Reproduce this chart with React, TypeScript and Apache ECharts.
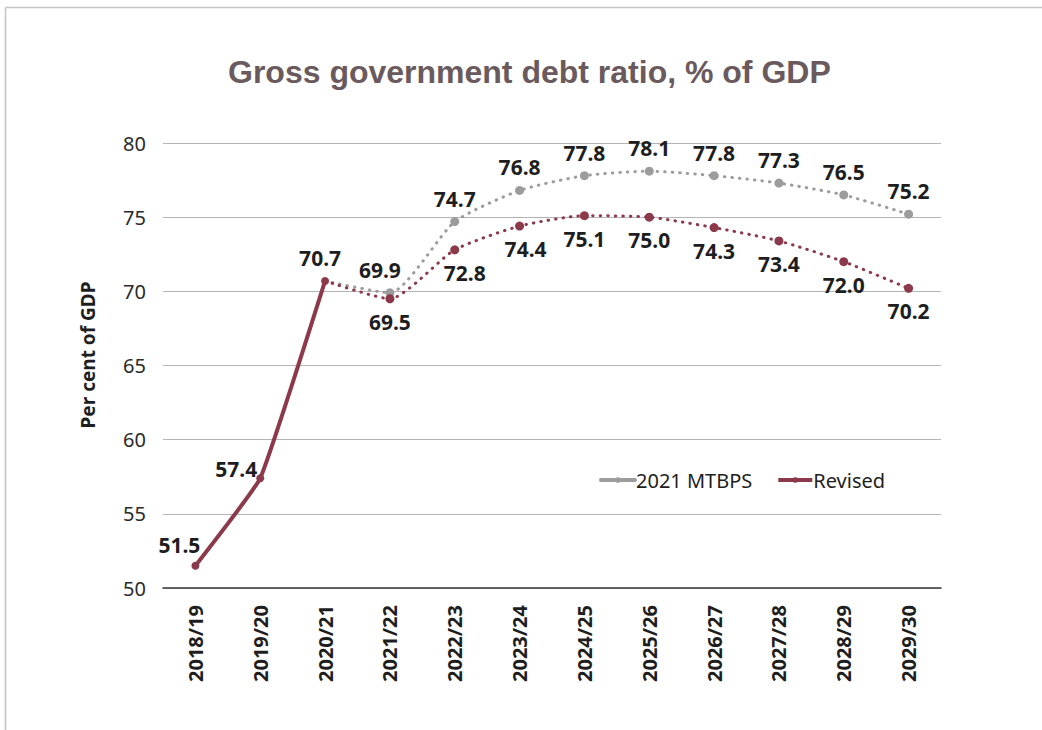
import React, { useEffect, useRef } from "react";
import * as echarts from "echarts";

const categories = [
  "2018/19", "2019/20", "2020/21", "2021/22", "2022/23", "2023/24",
  "2024/25", "2025/26", "2026/27", "2027/28", "2028/29", "2029/30",
];
const mtbps2021 = [null, null, 70.7, 69.9, 74.7, 76.8, 77.8, 78.1, 77.8, 77.3, 76.5, 75.2];
const revisedActual = [51.5, 57.4, 70.7, null, null, null, null, null, null, null, null, null];
const revisedProjected = [null, null, 70.7, 69.5, 72.8, 74.4, 75.1, 75.0, 74.3, 73.4, 72.0, 70.2];
const yTicks = [50, 55, 60, 65, 70, 75, 80];

const GREY = "#9c9c9c";
const MAROON = "#8c3a4b";
const FONT = "'Noto Sans', 'DejaVu Sans', sans-serif";

export default function App() {
  const ref = useRef<HTMLDivElement>(null);
  useEffect(() => {
    if (!ref.current) return;
    const chart = echarts.init(ref.current, undefined, { renderer: "svg" });

    const labelBase = {
      show: true,
      fontFamily: FONT,
      fontSize: 21,
      fontWeight: "bold" as const,
      color: "#1e1e1e",
      distance: 8,
      formatter: (p: any) => Number(p.value).toFixed(1),
    };

    const mtbpsTweaks: Record<number, any> = {
      3: { offset: [-10, 0] },
    };
    const mtbpsData = mtbps2021.map((v, i) =>
      v === null
        ? null
        : i === 2
        ? { value: v, symbol: "none", label: { show: false } }
        : { value: v, label: { ...(mtbpsTweaks[i] || {}) } }
    );
    const actualTweaks: Record<number, any> = {
      0: { position: "top", offset: [-16, 2] },
      1: { position: "top", offset: [-24, 13] },
      2: { position: "top", offset: [-5, 0] },
    };
    const actualData = revisedActual.map((v, i) =>
      v === null ? null : { value: v, label: { ...actualTweaks[i] } }
    );
    const projTweaks: Record<number, any> = {
      4: { offset: [10, 0] },
      5: { offset: [6, 0] },
    };
    const projData = revisedProjected.map((v, i) =>
      v === null
        ? null
        : i === 2
        ? { value: v, symbol: "none", label: { show: false } }
        : { value: v, label: { ...(projTweaks[i] || {}) } }
    );

    const dotted = { width: 3, type: [0.5, 7] as any, cap: "round" as const };

    chart.setOption({
      animation: false,
      backgroundColor: "#ffffff",
      title: {
        text: "Gross government debt ratio, % of GDP",
        left: 223,
        top: 51,
        textStyle: {
          fontFamily: "'Liberation Sans', Arial, sans-serif",
          fontSize: 32,
          fontWeight: "bold",
          color: "#6a5a5d",
        },
      },
      grid: { left: 163, right: 101, top: 143, bottom: 142 },
      legend: {
        data: ["2021 MTBPS", "Revised"],
        left: 594,
        top: 465,
        itemWidth: 34,
        itemHeight: 7,
        itemGap: 24,
        textStyle: { fontFamily: FONT, fontSize: 20, color: "#1e1e1e", padding: [0, 0, 0, -4] },
        lineStyle: { type: "solid", width: 4 },
      },
      xAxis: {
        type: "category",
        data: categories,
        boundaryGap: true,
        axisLine: { lineStyle: { color: "#3a3a3a", width: 1.5 } },
        axisTick: { show: false },
        axisLabel: {
          rotate: 90,
          margin: 17,
          interval: 0,
          fontFamily: FONT,
          fontSize: 20,
          fontWeight: "bold",
          color: "#1e1e1e",
        },
      },
      yAxis: {
        type: "value",
        min: yTicks[0],
        max: yTicks[yTicks.length - 1],
        interval: 5,
        axisLine: { show: false },
        axisTick: { show: false },
        splitLine: { lineStyle: { color: "#b4b4b4", width: 1 } },
        axisLabel: {
          margin: 17,
          fontFamily: FONT,
          fontSize: 20,
          color: "#2a2a2a",
        },
      },
      graphic: [
        {
          type: "line",
          shape: { x1: 5.5, y1: 7.5, x2: 1042, y2: 7.5 },
          style: { stroke: "#c4c4c4", lineWidth: 1.5 },
        },
        {
          type: "line",
          shape: { x1: 5.5, y1: 7.5, x2: 5.5, y2: 730 },
          style: { stroke: "#c4c4c4", lineWidth: 1.5 },
        },
        {
          type: "text",
          x: 88,
          y: 355,
          rotation: Math.PI / 2,
          style: {
            text: "Per cent of GDP",
            fontFamily: FONT,
            fontSize: 19,
            fontWeight: "bold",
            fill: "#1e1e1e",
            align: "center",
            verticalAlign: "middle",
          },
        },
      ],
      series: [
        {
          name: "Revised",
          type: "line",
          data: actualData,
          smooth: 0.1,
          symbol: "circle",
          symbolSize: 8,
          itemStyle: { color: MAROON },
          lineStyle: { color: MAROON, width: 4 },
          label: { ...labelBase },
          z: 4,
        },
        {
          name: "2021 MTBPS",
          type: "line",
          data: mtbpsData,
          smooth: 0.2,
          symbol: "circle",
          symbolSize: 9,
          itemStyle: { color: GREY },
          lineStyle: { color: GREY, ...dotted },
          label: { ...labelBase, position: "top" },
          z: 2,
        },
        {
          name: "Revised",
          type: "line",
          data: projData,
          smooth: 0.2,
          symbol: "circle",
          symbolSize: 9,
          itemStyle: { color: MAROON },
          lineStyle: { color: MAROON, ...dotted },
          label: { ...labelBase, position: "bottom" },
          z: 3,
        },
      ],
    });
    return () => chart.dispose();
  }, []);

  return (
    <div
      ref={ref}
      style={{ position: "absolute", left: 0, top: 0, width: 1042, height: 730 }}
    />
  );
}
